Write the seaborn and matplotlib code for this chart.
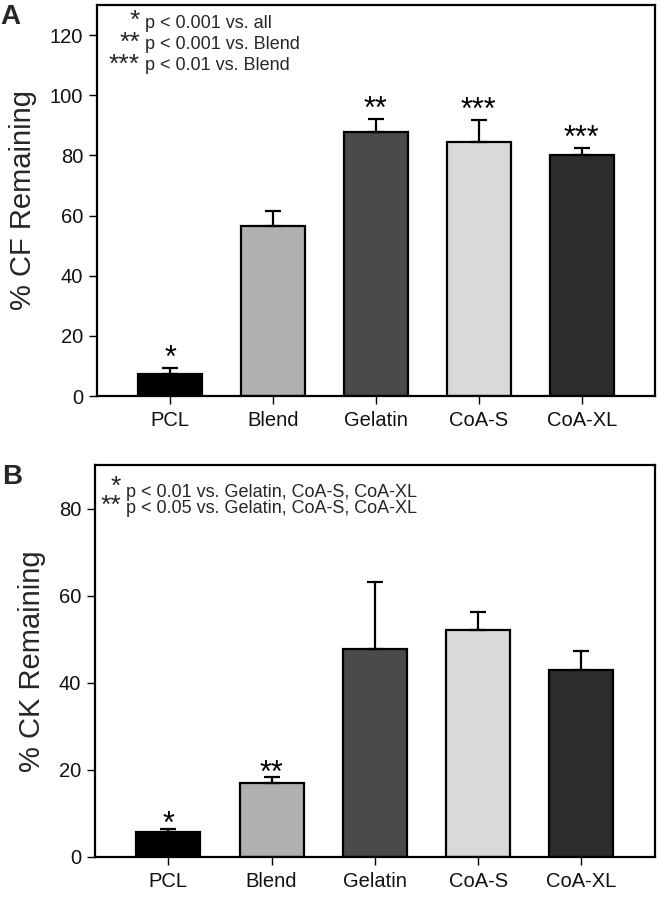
import matplotlib
matplotlib.use("Agg")
import matplotlib.pyplot as plt
import seaborn as sns
import pandas as pd
import numpy as np

sns.set_theme(style="white")
plt.rcParams['font.family'] = ['Liberation Sans', 'DejaVu Sans']

categories = ["PCL", "Blend", "Gelatin", "CoA-S", "CoA-XL"]
colors = ["#000000", "#b0b0b0", "#4a4a4a", "#d9d9d9", "#2c2c2c"]

cf_values = [7.2, 56.6, 87.9, 84.5, 80.1]
cf_errors = [2.0, 4.8, 4.1, 7.3, 2.3]
cf_marks = ["*", "", "**", "***", "***"]
cf_notes_sym = ["*", "**", "***"]
cf_notes_txt = ["p < 0.001 vs. all", "p < 0.001 vs. Blend", "p < 0.01 vs. Blend"]

ck_values = [5.8, 16.9, 47.7, 52.1, 42.9]
ck_errors = [0.6, 1.4, 15.4, 4.1, 4.4]
ck_marks = ["*", "**", "", "", ""]
ck_notes_sym = ["*", "**"]
ck_notes_txt = ["p < 0.01 vs. Gelatin, CoA-S, CoA-XL", "p < 0.05 vs. Gelatin, CoA-S, CoA-XL"]

fig = plt.figure(figsize=(6.6, 8.98), dpi=100)
axA = fig.add_axes([0.147, 0.559, 0.845, 0.4355])
axB = fig.add_axes([0.144, 0.0457, 0.848, 0.4363])


def draw(ax, values, errors, marks, ylim, yticks, ylabel, star_pt):
    df = pd.DataFrame({"cat": categories, "val": values})
    sns.barplot(data=df, x="cat", y="val", hue="cat", palette=colors, legend=False,
                width=0.62, edgecolor="black", linewidth=1.6, errorbar=None, ax=ax,
                saturation=1)
    x = np.arange(len(categories))
    ax.errorbar(x, values, yerr=[np.zeros(len(values)), errors], fmt="none",
                ecolor="black", elinewidth=1.6, capsize=6, capthick=1.6, zorder=1)
    for xi, v, e, m in zip(x, values, errors, marks):
        if m:
            ax.annotate(m, xy=(xi, v + e), xytext=(0, star_pt), textcoords="offset points",
                        ha="center", va="baseline", fontsize=22, color="black")
    ax.set_xlim(-0.71, 4.71)
    ax.set_ylim(*ylim)
    ax.set_yticks(yticks)
    ax.set_xlabel("")
    ax.set_ylabel(ylabel, fontsize=21, labelpad=9)
    ax.tick_params(axis="both", labelsize=14.5, direction="out", length=6, width=1,
                   colors="black", bottom=True, left=True)
    ax.tick_params(axis="x", pad=5)
    ax.tick_params(axis="y", pad=4)
    for s in ax.spines.values():
        s.set_visible(True)
        s.set_color("black")
        s.set_linewidth(1.6)
    for lab in ax.get_xticklabels() + ax.get_yticklabels():
        lab.set_color("#111111")


draw(axA, cf_values, cf_errors, cf_marks, (0, 130), range(0, 121, 20), "% CF Remaining", 1)
draw(axB, ck_values, ck_errors, ck_marks, (0, 90), range(0, 81, 20), "% CK Remaining", -3)

# annotation notes, panel A (stars and texts as two aligned blocks)
axA.text(0.077, 0.903, "\n".join(cf_notes_sym), transform=axA.transAxes, ha="right",
         va="center", fontsize=19, linespacing=0.88)
axA.text(0.086, 0.898, "\n".join(cf_notes_txt), transform=axA.transAxes, ha="left",
         va="center", fontsize=13, linespacing=1.3)

# annotation notes, panel B
axB.text(0.047, 0.921, "\n".join(ck_notes_sym), transform=axB.transAxes, ha="right",
         va="center", fontsize=19, linespacing=0.74)
axB.text(0.056, 0.909, "\n".join(ck_notes_txt), transform=axB.transAxes, ha="left",
         va="center", fontsize=13, linespacing=0.9)

fig.text(0.0, 0.981, "A", fontsize=20, fontweight="bold", ha="left", va="center")
fig.text(0.003, 0.469, "B", fontsize=20, fontweight="bold", ha="left", va="center")

fig.savefig("out.png", dpi=100, facecolor="white")
